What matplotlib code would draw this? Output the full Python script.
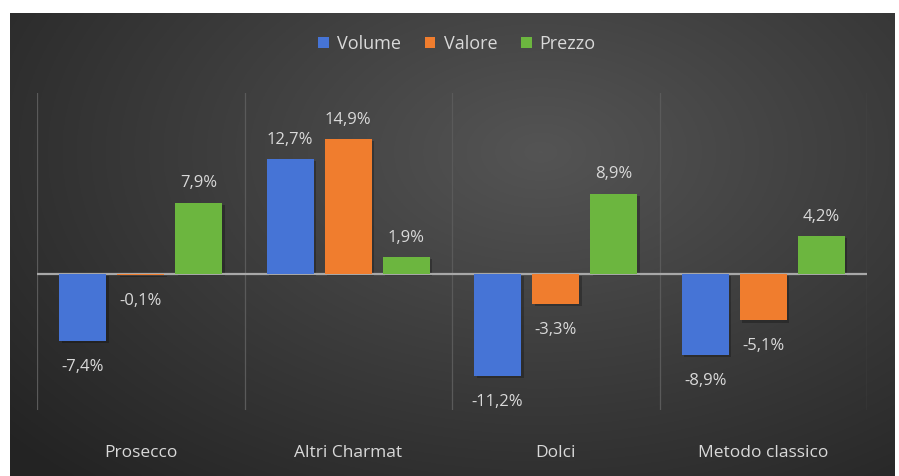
import numpy as np
import matplotlib
matplotlib.use("Agg")
import matplotlib.pyplot as plt

categories = ["Prosecco", "Altri Charmat", "Dolci", "Metodo classico"]
series_names = ["Volume", "Valore", "Prezzo"]
volume = [-7.4, 12.7, -11.2, -8.9]
valore = [-0.1, 14.9, -3.3, -5.1]
prezzo = [7.9, 1.9, 8.9, 4.2]
colors = ["#4674d6", "#f07d2e", "#6cb63f"]

plt.rcParams['font.family'] = ['Open Sans', 'DejaVu Sans']
W, H = 899, 476
fig = plt.figure(figsize=(W / 100, H / 100), dpi=100)
fig.patch.set_facecolor("white")

# dark background panel with radial gradient
bg = fig.add_axes([10 / W, 0, (894 - 10) / W, (476 - 13) / H])
bg.set_axis_off()
yy, xx = np.mgrid[0:1:300j, 0:1:500j]
d = np.sqrt(((xx - 0.6) / 0.75) ** 2 + ((yy - 0.3) / 0.9) ** 2)
val = np.clip(0.33 - 0.18 * d, 0.14, 0.33)
img = np.dstack([val, val, val])
bg.imshow(img, aspect='auto', extent=[0, 1, 1, 0], origin='upper')
bg.set_xlim(0, 1)
bg.set_ylim(1, 0)

# plot area
left, right, top, bottom = 37, 867, 93, 410
ax = fig.add_axes([left / W, 1 - bottom / H, (right - left) / W, (bottom - top) / H])
ax.set_facecolor("none")
ax.set_xlim(-0.5, len(categories) - 0.5)
ax.set_ylim(-15, 20)

x = np.arange(len(categories))
width = 0.227
offs = [-0.28, 0.0, 0.28]
data = [volume, valore, prezzo]
for k, (vals, c, off) in enumerate(zip(data, colors, offs)):
    # shadow
    ax.bar(x + off + 0.012, vals, width, color="black", alpha=0.25, zorder=2,
           bottom=[-0.25] * len(vals))
    ax.bar(x + off, vals, width, color=c, zorder=3, label=series_names[k])
    for xi, v in zip(x, vals):
        lab = f"{v:.1f}%".replace(".", ",")
        if v >= 0:
            ax.annotate(lab, (xi + off, v), xytext=(0, 8), textcoords="offset points",
                        ha="center", va="bottom", color="#d9d9d9", fontsize=12, zorder=5)
        else:
            ax.annotate(lab, (xi + off, v), xytext=(0, -13), textcoords="offset points",
                        ha="center", va="top", color="#d9d9d9", fontsize=12, zorder=5)

# vertical separators
for b in np.arange(-0.5, len(categories), 1.0):
    ax.axvline(b, color="#5a5a5a", lw=0.9, zorder=1)
ax.axhline(0, color="#a8a8a8", lw=1.6, zorder=2.5)

for s in ax.spines.values():
    s.set_visible(False)
ax.set_yticks([])
ax.set_xticks(x)
ax.set_xticklabels(categories, color="#d9d9d9", fontsize=12.5)
ax.tick_params(axis="x", length=0, pad=25)

leg = fig.legend(*ax.get_legend_handles_labels(), loc="center", bbox_to_anchor=(457 / W, 1 - 44 / H),
                 ncol=3, frameon=False, fontsize=13, handlelength=0.6, handleheight=0.6,
                 handletextpad=0.45, columnspacing=1.3, labelcolor="#d9d9d9")

fig.savefig("out.png", dpi=100, facecolor="white")
